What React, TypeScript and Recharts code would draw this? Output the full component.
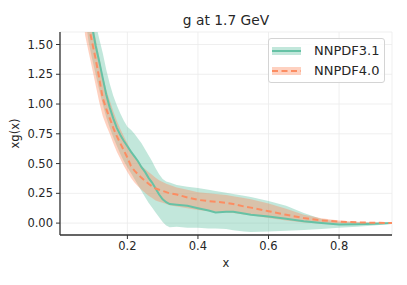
import React from 'react';
import {ComposedChart, Area, Line, XAxis, YAxis, CartesianGrid, Legend} from 'recharts';

const FONT = '"DejaVu Sans", sans-serif';
const GREEN = '#66c2a5';
const ORANGE = '#fc8d62';

// x grid shared by both fits
const xs = [
  0.07, 0.08, 0.09, 0.10, 0.11, 0.12, 0.13, 0.14, 0.15, 0.16, 0.17, 0.18, 0.19, 0.20,
  0.21, 0.22, 0.23, 0.24, 0.25, 0.26, 0.27, 0.28, 0.29, 0.30, 0.31, 0.32, 0.34, 0.37,
  0.40, 0.43, 0.45, 0.48, 0.50, 0.53, 0.55, 0.60, 0.65, 0.70, 0.75, 0.80, 0.85, 0.90, 0.95,
];

// NNPDF3.1
const nnpdf31Lower = [
  2.0, 1.75, 1.52, 1.38, 1.25, 1.12, 1.0, 0.89, 0.8, 0.72, 0.65, 0.58, 0.52, 0.47,
  0.42, 0.37, 0.32, 0.27, 0.22, 0.17, 0.13, 0.09, 0.05, 0.01, -0.02, -0.035, -0.03, -0.04,
  -0.04, -0.045, -0.045, -0.05, -0.06, -0.07, -0.075, -0.07, -0.065, -0.057, -0.05, -0.04, -0.03, -0.02, -0.005,
];
const nnpdf31Central = [
  2.4, 2.05, 1.8, 1.65, 1.49, 1.36, 1.22, 1.08, 0.97, 0.88, 0.8, 0.74, 0.69, 0.645,
  0.6, 0.56, 0.52, 0.47, 0.43, 0.38, 0.34, 0.29, 0.24, 0.2, 0.175, 0.16, 0.155, 0.145,
  0.125, 0.105, 0.09, 0.095, 0.095, 0.08, 0.07, 0.056, 0.036, 0.015, 0.0, -0.012, -0.01, -0.005, 0.0,
];
const nnpdf31Upper = [
  2.8, 2.35, 2.05, 1.82, 1.68, 1.55, 1.43, 1.29, 1.17, 1.07, 0.99, 0.92, 0.86, 0.81,
  0.785, 0.75, 0.71, 0.67, 0.62, 0.57, 0.52, 0.46, 0.41, 0.37, 0.35, 0.34, 0.32, 0.305,
  0.295, 0.28, 0.27, 0.255, 0.245, 0.23, 0.22, 0.185, 0.145, 0.085, 0.035, 0.012, 0.007, 0.004, 0.001,
];

// NNPDF4.0
const nnpdf40Lower = [
  1.95, 1.58, 1.44, 1.3, 1.16, 1.02, 0.9, 0.82, 0.75, 0.67, 0.6, 0.54, 0.48, 0.43,
  0.38, 0.34, 0.31, 0.28, 0.255, 0.23, 0.21, 0.19, 0.18, 0.17, 0.16, 0.15, 0.14, 0.125,
  0.11, 0.1, 0.095, 0.09, 0.085, 0.072, 0.065, 0.042, 0.022, 0.005, -0.003, -0.004, -0.003, -0.002, 0.0,
];
const nnpdf40Central = [
  2.3, 1.85, 1.66, 1.52, 1.38, 1.22, 1.05, 0.96, 0.88, 0.8, 0.73, 0.67, 0.61, 0.55,
  0.48, 0.44, 0.41, 0.38, 0.355, 0.33, 0.31, 0.29, 0.28, 0.27, 0.26, 0.25, 0.24, 0.215,
  0.195, 0.185, 0.18, 0.17, 0.16, 0.14, 0.13, 0.1, 0.07, 0.042, 0.022, 0.013, 0.006, 0.003, 0.0,
];
const nnpdf40Upper = [
  2.6, 2.1, 1.86, 1.7, 1.55, 1.4, 1.24, 1.12, 1.03, 0.94, 0.86, 0.79, 0.73, 0.67,
  0.61, 0.56, 0.52, 0.48, 0.455, 0.43, 0.405, 0.38, 0.36, 0.345, 0.33, 0.32, 0.3, 0.28,
  0.26, 0.25, 0.245, 0.235, 0.225, 0.21, 0.2, 0.165, 0.12, 0.07, 0.04, 0.022, 0.012, 0.006, 0.001,
];

const xTicks = [0.2, 0.4, 0.6, 0.8];
const yTicks = [0, 0.25, 0.5, 0.75, 1.0, 1.25, 1.5];

const data = xs.map((x, i) => ({
  x,
  band31: [nnpdf31Lower[i], nnpdf31Upper[i]],
  mid31: nnpdf31Central[i],
  band40: [nnpdf40Lower[i], nnpdf40Upper[i]],
  mid40: nnpdf40Central[i],
}));

const series = [
  {name: 'NNPDF3.1', color: GREEN, dash: undefined},
  {name: 'NNPDF4.0', color: ORANGE, dash: '6 3.5'},
];

const tickStyle = {fontSize: 11.5, fill: '#262626', fontFamily: FONT};

const LegendBox = () => (
  <div style={{
    width: 117, height: 45, boxSizing: 'border-box', border: '1px solid #d4d4d4',
    borderRadius: 3, background: 'rgba(255,255,255,0.8)', fontFamily: FONT, fontSize: 13,
    color: '#262626', position: 'relative',
  }}>
    {series.map((s, i) => (
      <div key={s.name} style={{position: 'absolute', left: 3, top: 2 + i * 20, height: 20, display: 'flex', alignItems: 'center'}}>
        <svg width={30} height={20}>
          <rect x={0} y={6} width={29} height={8} fill={s.color} fillOpacity={0.4}/>
          <line x1={0} x2={29} y1={10} y2={10} stroke={s.color} strokeWidth={2} strokeDasharray={s.dash}/>
        </svg>
        <span style={{marginLeft: 12, lineHeight: '20px'}}>{s.name}</span>
      </div>
    ))}
  </div>
);

const App = () => {
  return (
    <div style={{position: 'absolute', left: 0, top: 0}}>
      <ComposedChart width={407} height={285} data={data}
                     margin={{top: 32, right: 15, left: 0, bottom: 0}}>
        <CartesianGrid stroke="#ebebeb" strokeWidth={0.8}/>
        <XAxis dataKey="x" type="number" domain={[0.009, 0.95]} ticks={xTicks} allowDataOverflow
               tickFormatter={(v) => v.toFixed(1)} height={50} tickSize={4} tickMargin={3}
               tick={tickStyle} axisLine={{stroke: '#333', strokeWidth: 1.3}} tickLine={{stroke: '#333'}}
               label={{
                 content: ({viewBox}) => (
                   <text x={viewBox.x + viewBox.width / 2} y={267} textAnchor="middle"
                         fontSize={11.5} fontFamily={FONT} fill="#262626">x</text>
                 ),
               }}/>
        <YAxis type="number" domain={[-0.1, 1.605]} ticks={yTicks} allowDataOverflow width={60}
               tickFormatter={(v) => v.toFixed(2)} tickSize={4} tickMargin={3}
               tick={tickStyle} axisLine={{stroke: '#333', strokeWidth: 1.3}} tickLine={{stroke: '#333'}}
               label={{
                 content: ({viewBox}) => {
                   const cy = viewBox.y + viewBox.height / 2;
                   return (
                     <text x={15} y={cy} transform={`rotate(-90, 15, ${cy})`} textAnchor="middle"
                           dominantBaseline="central" fontSize={11.5} fontFamily={FONT} fill="#262626">xg(x)</text>
                   );
                 },
               }}/>
        <Area dataKey="band31" stroke="none" fill={GREEN} fillOpacity={0.4} type="linear"
              isAnimationActive={false}/>
        <Area dataKey="band40" stroke="none" fill={ORANGE} fillOpacity={0.4} type="linear"
              isAnimationActive={false}/>
        <Line dataKey="mid31" stroke={GREEN} strokeWidth={2} dot={false} type="linear"
              isAnimationActive={false}/>
        <Line dataKey="mid40" stroke={ORANGE} strokeWidth={2} strokeDasharray="6 3.5" dot={false}
              type="linear" isAnimationActive={false}/>
        <Legend layout="vertical" align="center" verticalAlign="middle" content={<LegendBox/>}
                wrapperStyle={{position: 'absolute', left: 268, top: 38, width: 117, height: 45}}/>
        <text x={226} y={25} textAnchor="middle" fontSize={13.8} fontFamily={FONT} fill="#262626">
          g at 1.7 GeV
        </text>
      </ComposedChart>
    </div>
  );
};

export default App;
